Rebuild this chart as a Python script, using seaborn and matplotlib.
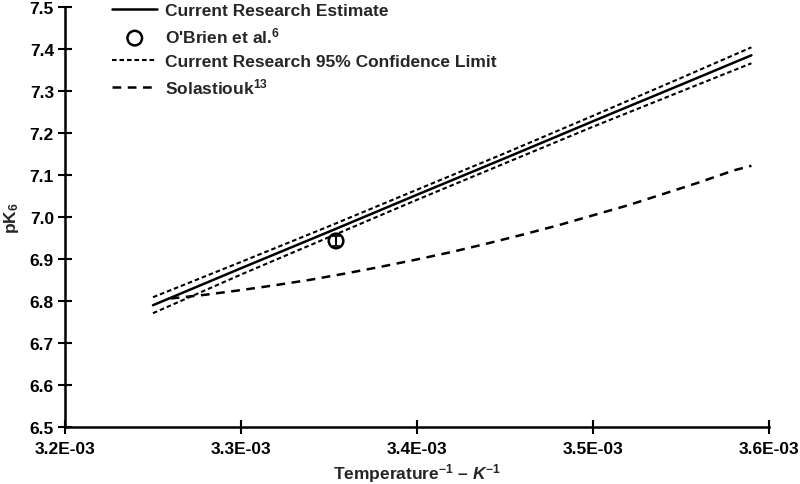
import matplotlib
matplotlib.use("Agg")
import matplotlib.pyplot as plt
import matplotlib.ticker as mticker
import seaborn as sns

# inverse temperature (1/K) and pK6 values
est_x = [3.25e-3, 3.30e-3, 3.35e-3, 3.40e-3, 3.45e-3, 3.50e-3, 3.55e-3, 3.59e-3]
est_y = [6.790, 6.878, 6.965, 7.053, 7.140, 7.228, 7.315, 7.385]
ci_upper = [6.809, 6.893, 6.978, 7.065, 7.152, 7.241, 7.331, 7.404]
ci_lower = [6.771, 6.863, 6.952, 7.041, 7.128, 7.215, 7.299, 7.366]

obrien_x = [3.354e-3]
obrien_y = [6.943]
obrien_err = [0.012]

sol_x = [3.26e-3, 3.28e-3, 3.30e-3, 3.32e-3, 3.34e-3, 3.36e-3, 3.38e-3, 3.40e-3, 3.42e-3,
         3.44e-3, 3.46e-3, 3.48e-3, 3.50e-3, 3.52e-3, 3.54e-3, 3.56e-3, 3.58e-3, 3.59e-3]
sol_y = [6.806, 6.815, 6.826, 6.838, 6.851, 6.866, 6.882, 6.899, 6.917,
         6.937, 6.958, 6.980, 7.004, 7.028, 7.055, 7.082, 7.111, 7.122]

sns.set_style("ticks")
plt.rcParams["font.family"] = ["Liberation Sans", "DejaVu Sans"]
plt.rcParams["font.weight"] = "bold"
plt.rcParams["mathtext.fontset"] = "custom"
plt.rcParams["mathtext.rm"] = "Liberation Sans:bold"
plt.rcParams["mathtext.it"] = "Liberation Sans:italic:bold"
plt.rcParams["mathtext.default"] = "rm"

fig = plt.figure(figsize=(8, 4.85), dpi=100)
ax = fig.add_axes([0.08125, 0.1175, 0.88, 0.8660])

sns.lineplot(x=est_x, y=est_y, ax=ax, color="black", linewidth=1.8,
             label="Current Research Estimate")
ax.errorbar(obrien_x, obrien_y, yerr=obrien_err, fmt="none",
            ecolor="black", elinewidth=1.5, capsize=3, capthick=1.2)
sns.scatterplot(x=obrien_x, y=obrien_y, ax=ax, s=110, marker="o",
                facecolor="none", edgecolor="black", linewidth=1.8,
                label="O'Brien et al.$^{6}$", zorder=3)
sns.lineplot(x=est_x, y=ci_upper, ax=ax, color="black", linewidth=1.5,
             label="Current Research 95% Confidence Limit")
sns.lineplot(x=est_x, y=ci_lower, ax=ax, color="black", linewidth=1.5)
sns.lineplot(x=sol_x, y=sol_y, ax=ax, color="black", linewidth=1.8,
             label="Solastiouk$^{13}$")

for ln in ax.get_lines():
    yd = list(ln.get_ydata())
    if yd in (ci_upper, ci_lower):
        ln.set_linestyle((0, (2.2, 1.4)))
    elif yd == sol_y:
        ln.set_linestyle((0, (3.5, 2.6)))

ax.set_xlim(3.2e-3, 3.6e-3)
ax.set_ylim(6.5, 7.5)
ax.xaxis.set_major_locator(mticker.MultipleLocator(1e-4))
ax.yaxis.set_major_locator(mticker.MultipleLocator(0.1))
ax.xaxis.set_major_formatter(mticker.FuncFormatter(lambda v, p: f"{v:.1E}"))
ax.yaxis.set_major_formatter(mticker.FuncFormatter(lambda v, p: f"{v:.1f}"))
ax.tick_params(direction="inout", length=10, width=1.5, colors="black", labelsize=12.5)
ax.tick_params(axis="x", pad=5)
ax.tick_params(axis="y", pad=3)
for t in ax.get_xticklabels() + ax.get_yticklabels():
    t.set_fontweight("bold")
for s in ["left", "bottom"]:
    ax.spines[s].set_linewidth(1.8)
    ax.spines[s].set_color("black")
sns.despine(ax=ax)

ax.set_xlabel("Temperature$^{-1}$ – $\\mathit{K}^{-1}$", fontsize=12.5, fontweight="bold", labelpad=4)
ax.set_ylabel("pK$_{6}$", fontsize=12.5, fontweight="bold", labelpad=6)

handles, labels = ax.get_legend_handles_labels()
order = ["Current Research Estimate", "O'Brien et al.$^{6}$",
         "Current Research 95% Confidence Limit", "Solastiouk$^{13}$"]
hl = dict(zip(labels, handles))
ax.legend([hl[k] for k in order], order, loc="upper left", bbox_to_anchor=(0.067, 1.01),
          frameon=False, prop={"size": 12.5, "weight": "bold"}, handlelength=2.6,
          labelspacing=0.45, handletextpad=0.45, borderaxespad=0, borderpad=0)

fig.savefig("out.png", dpi=100)
